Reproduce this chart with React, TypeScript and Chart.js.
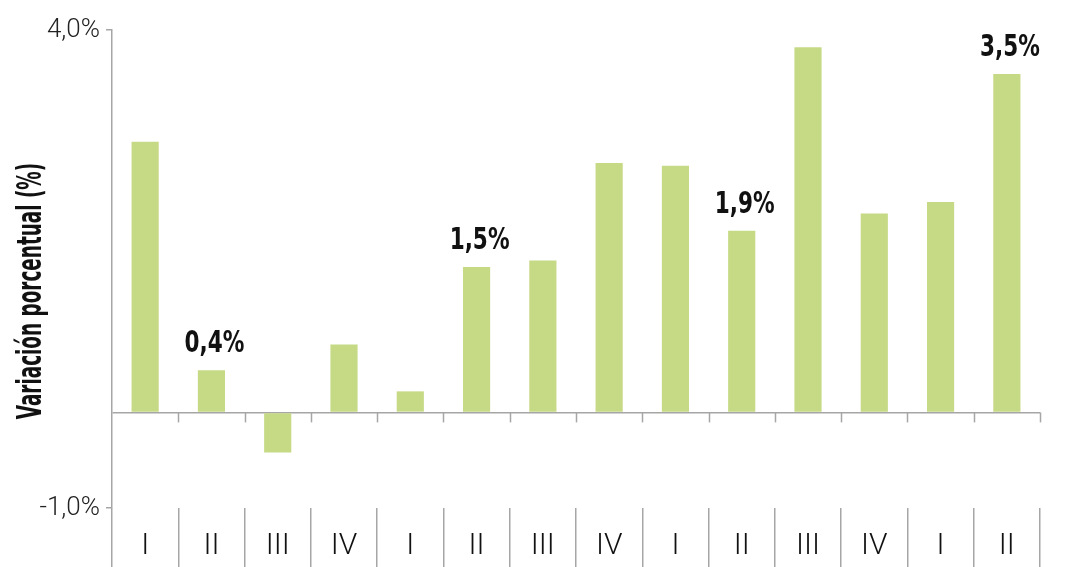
import React, { FC, useEffect, useRef } from "react";
import Chart from "chart.js/auto";

// quarters (roman numerals) shown under the chart
const quarters = ["I", "II", "III", "IV", "I", "II", "III", "IV", "I", "II", "III", "IV", "I", "II"];
// variación porcentual (%) per quarter
const variacion = [2.83, 0.44, -0.42, 0.71, 0.22, 1.52, 1.59, 2.61, 2.58, 1.9, 3.82, 2.08, 2.2, 3.54];
// bars that carry a value label on top
const labelledBars = [1, 5, 9, 13];
// y ticks that are labelled
const yTicks = [-1, 0, 4];
const yTitle = "Variación porcentual (%)";

const FONT = "'Liberation Sans Narrow', 'DejaVu Sans Condensed', sans-serif";
const LIGHT_FONT = "Roboto, 'DejaVu Sans Condensed', sans-serif";
const AXIS_GREY = "#a6a6a6";
const BAR_GREEN = "#c6da86";

const fmt = (v: number) => v.toFixed(1).replace(".", ",") + "%";

// zero line tick marks, value labels and the (condensed) y title
const extrasPlugin = {
  id: "extras",
  afterDatasetsDraw(chart: any) {
    const { ctx } = chart;
    const x = chart.scales.x;
    const y = chart.scales.y;
    const zero = y.getPixelForValue(0);
    ctx.save();
    ctx.strokeStyle = AXIS_GREY;
    ctx.lineWidth = 1.5;
    for (let i = 1; i <= quarters.length; i++) {
      const px = Math.round(x.getPixelForValue(i - 0.5)) + 0.5;
      ctx.beginPath();
      ctx.moveTo(px, zero);
      ctx.lineTo(px, zero + 10);
      ctx.stroke();
    }

    // value labels, squeezed a bit to look like a condensed face
    const meta = chart.getDatasetMeta(0);
    ctx.fillStyle = "#111";
    ctx.font = `bold 30px ${FONT}`;
    ctx.textAlign = "center";
    ctx.textBaseline = "alphabetic";
    labelledBars.forEach((i) => {
      const bar = meta.data[i];
      ctx.save();
      ctx.translate(bar.x + 3, bar.y - 18);
      ctx.scale(0.8, 1);
      ctx.fillText(fmt(variacion[i]), 0, 0);
      ctx.restore();
    });

    // y axis title
    ctx.save();
    ctx.translate(y.left + 32, (y.top + y.bottom) / 2 + 22);
    ctx.rotate(-Math.PI / 2);
    ctx.scale(0.62, 1);
    ctx.font = `bold 33px ${FONT}`;
    ctx.textBaseline = "middle";
    ctx.fillText(yTitle, 0, 0);
    ctx.restore();

    ctx.restore();
  },
};

const App: FC = () => {
  const chartRef = useRef<HTMLCanvasElement>(null);

  useEffect(() => {
    document.body.style.margin = "0";
    if (!chartRef.current) return;
    const ctx = chartRef.current.getContext("2d");
    if (!ctx) return;

    const chart = new Chart(ctx, {
      type: "bar",
      data: {
        labels: quarters,
        datasets: [
          {
            data: variacion,
            backgroundColor: BAR_GREEN,
            borderWidth: 0,
            barPercentage: 0.41,
            categoryPercentage: 1,
          },
        ],
      },
      options: {
        animation: false,
        responsive: false,
        maintainAspectRatio: false,
        layout: { padding: { top: 30, right: 40, left: 0, bottom: 0 } },
        plugins: {
          legend: { display: false },
          tooltip: { enabled: false },
        },
        scales: {
          x: {
            afterFit: (s: any) => {
              s.height = 59;
            },
            grid: {
              offset: true,
              drawOnChartArea: false,
              drawTicks: true,
              tickLength: 59,
              color: AXIS_GREY,
              lineWidth: 1.5,
            },
            border: { display: false },
            ticks: {
              color: "#111",
              padding: -39,
              maxRotation: 0,
              autoSkip: false,
              font: { family: LIGHT_FONT, size: 30, weight: "300" },
            },
          },
          y: {
            min: -1,
            max: 4,
            afterFit: (s: any) => {
              s.width = 112;
            },
            afterBuildTicks: (s: any) => {
              s.ticks = yTicks.map((v) => ({ value: v }));
            },
            border: { display: true, color: AXIS_GREY, width: 1.5 },
            grid: {
              color: (c: any) => (c.tick && c.tick.value === 0 ? AXIS_GREY : "rgba(0,0,0,0)"),
              tickColor: (c: any) => (c.tick && c.tick.value === 0 ? "rgba(0,0,0,0)" : AXIS_GREY),
              lineWidth: 1.5,
              tickLength: 6,
            },
            ticks: {
              color: "#222",
              padding: 6,
              font: { family: LIGHT_FONT, size: 26, weight: "300" },
              callback: (v: any) => (v === 0 ? "" : fmt(Number(v))),
            },
          },
        },
      },
      plugins: [extrasPlugin],
    });

    return () => {
      chart.destroy();
    };
  }, []);

  return (
    <div style={{ width: "1080px", height: "567px", background: "#fff" }}>
      <canvas ref={chartRef} width={1080} height={567} style={{ width: "1080px", height: "567px" }}></canvas>
    </div>
  );
};

export default App;
